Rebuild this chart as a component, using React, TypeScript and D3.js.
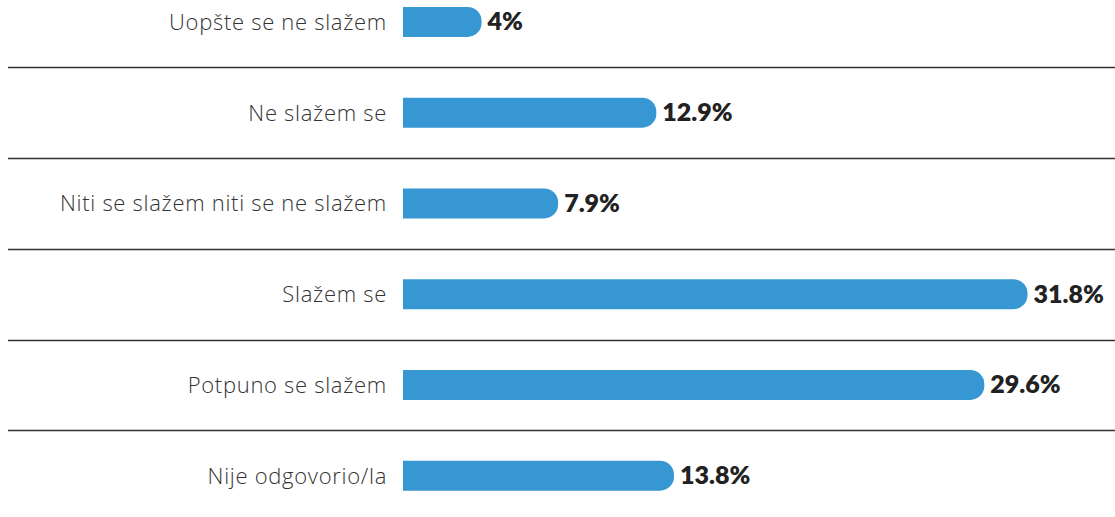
import React from "react";
import * as d3 from "d3";

const categories = [
  "Uopšte se ne slažem",
  "Ne slažem se",
  "Niti se slažem niti se ne slažem",
  "Slažem se",
  "Potpuno se slažem",
  "Nije odgovorio/la",
];
const values = [4, 12.9, 7.9, 31.8, 29.6, 13.8];
const valueLabels = ["4%", "12.9%", "7.9%", "31.8%", "29.6%", "13.8%"];

const W = 1115;
const H = 517;
const barX0 = 403;
const barH = 30;
const r = 14;

function barPath(x0: number, y0: number, w: number, h: number, rad: number) {
  const rr = Math.min(rad, w, h / 2);
  const p = d3.path();
  p.moveTo(x0, y0);
  p.lineTo(x0 + w - rr, y0);
  p.arcTo(x0 + w, y0, x0 + w, y0 + rr, rr);
  p.lineTo(x0 + w, y0 + h - rr);
  p.arcTo(x0 + w, y0 + h, x0 + w - rr, y0 + h, rr);
  p.lineTo(x0, y0 + h);
  p.closePath();
  return p.toString();
}

export default function App() {
  const x = d3.scaleLinear().domain([0, 31.8]).range([0, 624.5]);
  const y = d3.scaleBand<string>().domain(categories).range([-23.4, -23.4 + 90.75 * 6]).padding(0);
  const bw = y.bandwidth();

  return (
    <svg
      width={W}
      height={H}
      style={{ position: "absolute", left: 0, top: 0, display: "block" }}
    >
      <rect width={W} height={H} fill="#ffffff" />
      {categories.slice(1).map((c) => {
        const yy = Math.round(y(c)!) + 0.5;
        return <line key={"l" + c} x1={8} x2={W} y1={yy} y2={yy} stroke="#333" strokeWidth={1.3} />;
      })}
      {categories.map((c, i) => {
        const cy = y(c)! + bw / 2;
        const w = x(values[i]);
        return (
          <g key={c}>
            <text
              x={387}
              y={cy + 8}
              textAnchor="end"
              fontSize={22}
              fontWeight={300}
              letterSpacing={0.7}
              fill="#333"
              fontFamily="'Open Sans', 'Noto Sans', sans-serif"
            >
              {c}
            </text>
            <path d={barPath(barX0, cy - barH / 2, w, barH, r)} fill="#3797d3" />
            <text
              x={barX0 + w + 6}
              y={cy + 8.5}
              fontSize={25}
              fontWeight={800}
              fill="#222"
              fontFamily="Lato, 'Noto Sans', sans-serif"
            >
              {valueLabels[i]}
            </text>
          </g>
        );
      })}
    </svg>
  );
}
